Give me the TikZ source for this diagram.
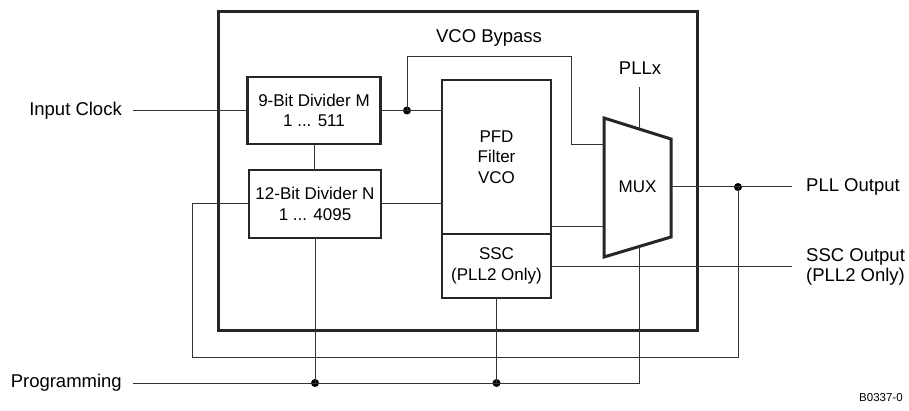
\documentclass[tikz,border=0pt]{standalone}
\usepackage{fontspec}
\setmainfont{Liberation Sans}
\usetikzlibrary{positioning}

\begin{document}
\begin{tikzpicture}[
  x=1pt, y=-1pt,
  font=\fontsize{17}{20.5}\selectfont,
  blk/.style={rectangle, draw=black!85, line width=2.8pt, outer sep=0pt,
              align=center, inner sep=0pt},
  chip/.style={draw=black!85, line width=3pt},
  wire/.style={draw=black!80, line width=1pt},
  lbl/.style={align=left, inner sep=0pt, font=\fontsize{18.5}{20}\selectfont},
  dot/.style={circle, fill=black, inner sep=0pt, minimum size=8pt}
]
\useasboundingbox (0,0) rectangle (909,411);
%% ── Chip outline ────────────────────────────────────────────────────────
\draw[chip] (218,12) rectangle (697,330);
%% ── Dividers (left column) ──────────────────────────────────────────────
\node[blk, minimum width=133pt, minimum height=67pt] (divm) at (314,110.5)
      {9-Bit Divider M\\1 ... 511};
\node[blk, minimum width=132pt, minimum height=68pt] (divn) at (315,204)
      {12-Bit Divider N\\1 ... 4095};
%% ── PFD / Filter / VCO with SSC below ───────────────────────────────────
\node[blk, minimum width=109pt, minimum height=154pt] (pfd) at (496.5,157)
      {PFD\\Filter\\VCO};
\node[blk, minimum width=109pt, minimum height=64pt, below=0pt of pfd] (ssc)
      {SSC\\(PLL2 Only)};
%% ── MUX (trapezoid) ─────────────────────────────────────────────────────
\coordinate (mux-tl) at (604,118);
\coordinate (mux-tr) at (671,139);
\coordinate (mux-br) at (671,237);
\coordinate (mux-bl) at (604,257);
\draw[chip] (mux-tl) -- (mux-tr) -- (mux-br) -- (mux-bl) -- cycle;
\node (mux) at (637.5,187) {MUX};
\coordinate (mux-in1) at (604,145);
\coordinate (mux-in2) at (604,227);
\coordinate (mux-sel) at (639,129);
\coordinate (mux-prg) at (639,246.5);
\coordinate (mux-out) at (671,187);
%% ── Labels ──────────────────────────────────────────────────────────────
\node[lbl, anchor=east] (inclk) at (122,110.5) {Input Clock};
\node[lbl, anchor=east] (prog)  at (122,383) {Programming};
\node[lbl] (vcobyp) at (489,38) {VCO Bypass};
\node[lbl] (pllx)   at (640,68) {PLLx};
\node[lbl, anchor=west] (pllout) at (806,187) {PLL Output};
\node[lbl, anchor=west] (sscout) at (806,266.5) {SSC Output\\(PLL2 Only)};
\node[lbl, anchor=west, font=\fontsize{11.5}{13}\selectfont] (figid)
      at (859,398) {B0337-0};
%% ── Junction dots ───────────────────────────────────────────────────────
\node[dot] (jbyp)  at (407,110.5) {};
\node[dot] (jout)  at (738,187) {};
\node[dot] (jprgn) at (315,383) {};
\node[dot] (jprgs) at (496.5,383) {};
\coordinate (byp)   at (571,57);
\coordinate (sel)   at (639,87);
\coordinate (fb-r)  at (738,357);
\coordinate (fb-l)  at (192,357);
%% ── Wires: clock path ───────────────────────────────────────────────────
\draw[wire] ([xshift=11pt]inclk.east) -- (divm.west);
\draw[wire] (divm.east) -- (pfd.west |- divm.east);
\draw[wire] (divm.south) -- (divm.south |- divn.north);
\draw[wire] (divn.east) -- (pfd.west |- divn.east);
\draw[wire] (jbyp.center) |- (byp) |- (mux-in1);
\draw[wire] (pfd.east |- mux-in2) -- (mux-in2);
\draw[wire] (sel) -- (mux-sel);
%% ── Wires: outputs and feedback ─────────────────────────────────────────
\draw[wire] (mux-out) -- ([xshift=-14pt]pllout.west);
\draw[wire] (ssc.east |- sscout.west) -- ([xshift=-14pt]sscout.west);
\draw[wire] (jout.center) -- (fb-r) -- (fb-l) |- (divn.west);
%% ── Wires: programming bus ──────────────────────────────────────────────
\draw[wire] ([xshift=11pt]prog.east) -| (mux-prg);
\draw[wire] (divn.south) -- (jprgn.center);
\draw[wire] (ssc.south) -- (jprgs.center);
\end{tikzpicture}
\end{document}
